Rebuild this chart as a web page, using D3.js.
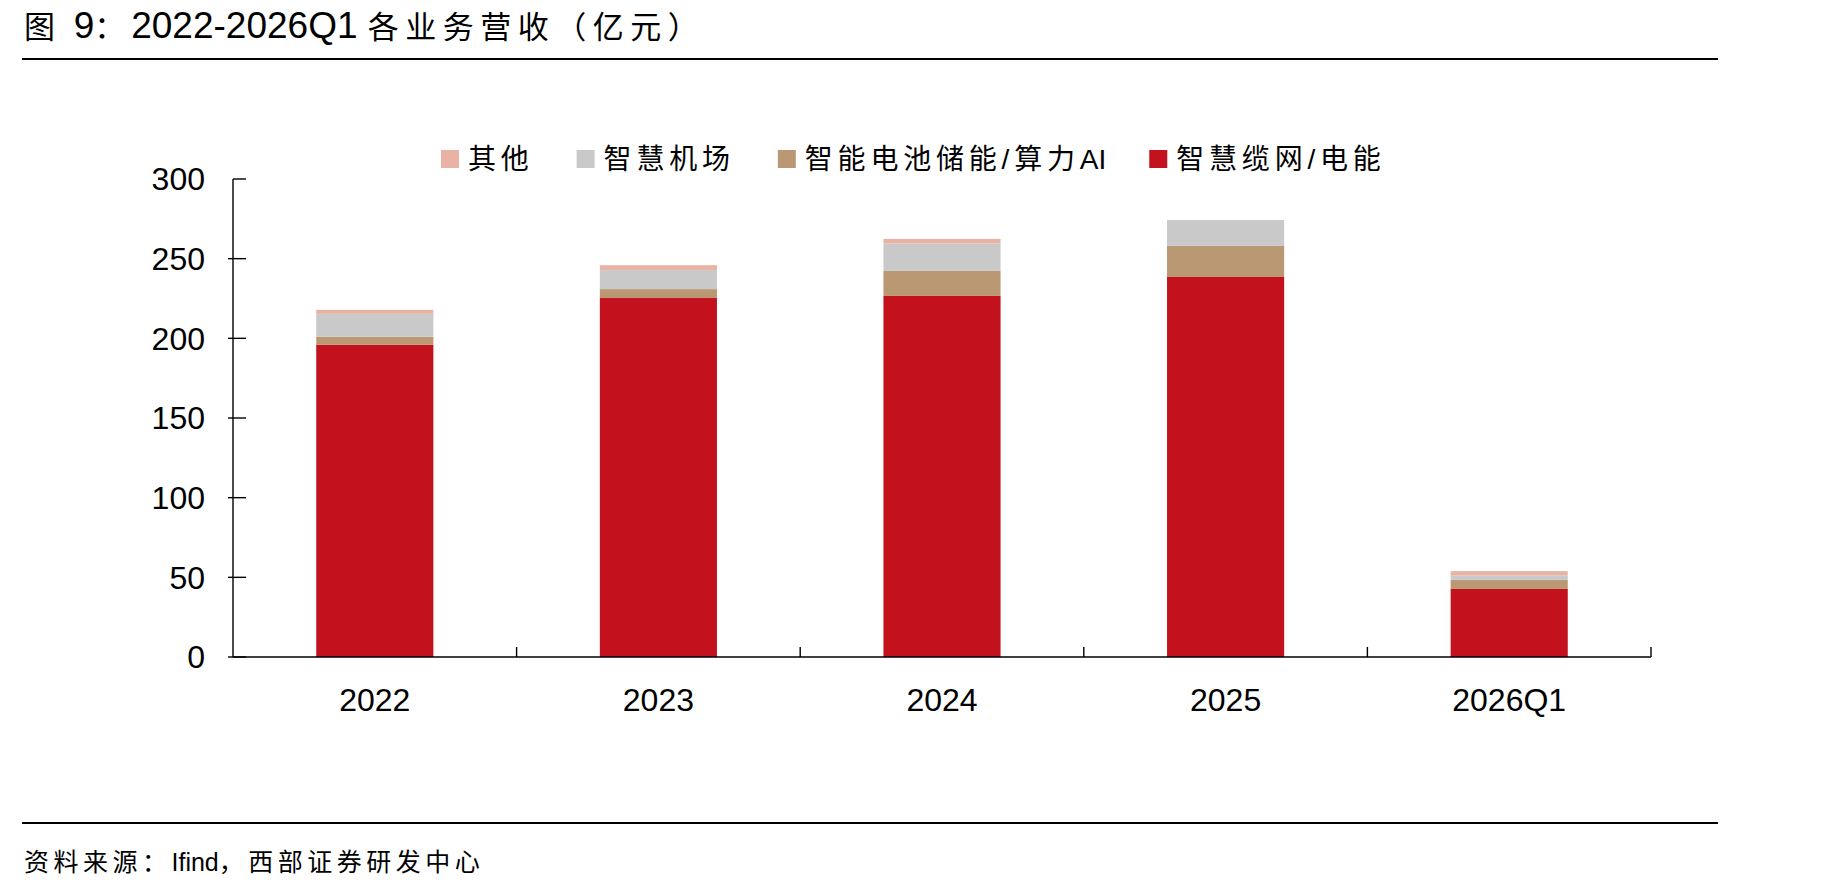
<!DOCTYPE html>
<html>
<head>
<meta charset="utf-8">
<title>2022-2026Q1 各业务营收</title>
<style>
  body { margin: 0; background: #fff; }
  text { font-family: "Liberation Sans", "Noto Sans CJK SC", sans-serif; fill: #000; }
</style>
</head>
<body>
<div id="chart"></div>
<script src="https://cdn.jsdelivr.net/npm/d3@7/dist/d3.min.js"></script>
<script>
// data (亿元)
var categories = ["2022", "2023", "2024", "2025", "2026Q1"];
var cable   = [196.0, 225.3, 226.6, 238.5, 42.7];   // 智慧缆网/电能
var battery = [5.0, 5.6, 15.7, 19.5, 5.6];          // 智能电池储能/算力AI
var airport = [14.4, 11.9, 17.2, 16.3, 2.9];        // 智慧机场
var other   = [2.5, 3.1, 2.9, 0, 2.7];              // 其他
var yTicks  = [0, 50, 100, 150, 200, 250, 300];

var seriesNames  = ["智慧缆网/电能", "智能电池储能/算力AI", "智慧机场", "其他"];
var seriesColors = ["#c3111d", "#b99873", "#c9c9c9", "#e8b3a5"];

var W = 1836, H = 890;
var svg = d3.select('#chart').append('svg').attr('width', W).attr('height', H);

var rows = categories.map(function (c, i) {
  return { cat: c, s0: cable[i], s1: battery[i], s2: airport[i], s3: other[i] };
});
var stacked = d3.stack().keys(["s0", "s1", "s2", "s3"])(rows);

var x = d3.scaleBand().domain(categories).range([233, 1651])
  .paddingInner(0.587).paddingOuter(0.2935);
var y = d3.scaleLinear().domain([0, 300]).range([657, 179]);

// bars
svg.append('g').selectAll('g').data(stacked).join('g')
  .attr('fill', function (d, i) { return seriesColors[i]; })
  .selectAll('rect').data(function (d) { return d; }).join('rect')
  .attr('x', function (d) { return x(d.data.cat); })
  .attr('width', x.bandwidth())
  .attr('y', function (d) { return y(d[1]); })
  .attr('height', function (d) { return y(d[0]) - y(d[1]); });

// y axis
var yAxis = svg.append('g').attr('stroke', '#000').attr('stroke-width', 1.4);
yAxis.append('line').attr('x1', 233).attr('x2', 233).attr('y1', y(300)).attr('y2', y(0));
yAxis.selectAll('line.tick').data(yTicks).join('line').attr('class', 'tick')
  .attr('x1', function (d) { return d === 300 ? 233 : 228; }).attr('x2', 246)
  .attr('y1', function (d) { return y(d); }).attr('y2', function (d) { return y(d); });
svg.append('g').selectAll('text').data(yTicks).join('text')
  .attr('x', 205).attr('y', function (d) { return y(d); })
  .attr('dy', '0.35em').attr('text-anchor', 'end')
  .style('font-size', '32px')
  .text(function (d) { return d; });

// x axis with ticks at category boundaries
var xAxis = svg.append('g').attr('stroke', '#000').attr('stroke-width', 1.4);
xAxis.append('line').attr('x1', 233).attr('x2', 1651).attr('y1', y(0)).attr('y2', y(0));
var bounds = categories.map(function (c) { return x(c) + x.bandwidth() / 2 + x.step() / 2; });
xAxis.selectAll('line.tick').data(bounds).join('line').attr('class', 'tick')
  .attr('x1', function (d) { return d; }).attr('x2', function (d) { return d; })
  .attr('y1', y(0)).attr('y2', y(0) - 10);
svg.append('g').selectAll('text').data(categories).join('text')
  .attr('x', function (d) { return x(d) + x.bandwidth() / 2; })
  .attr('y', 711).attr('text-anchor', 'middle')
  .style('font-size', '32px')
  .text(function (d) { return d; });

// legend (reverse order of stack); latin parts without extra spacing
var legend = svg.append('g');
var lx = 441;
[3, 2, 1, 0].forEach(function (i) {
  legend.append('rect').attr('x', lx).attr('y', 150).attr('width', 18).attr('height', 18)
    .attr('fill', seriesColors[i]);
  var t = legend.append('text').attr('x', lx + 27).attr('y', 169).style('font-size', '28px');
  seriesNames[i].split(/([A-Za-z]+)/).forEach(function (part) {
    if (!part) return;
    t.append('tspan').style('letter-spacing', /[A-Za-z]/.test(part) ? '0px' : '4.8px').text(part);
  });
  lx = lx + 27 + t.node().getComputedTextLength() + 43;
});

// title
var title = svg.append('text').attr('x', 24).attr('y', 38);
[["图 ", 31, "5px"], ["9", 37, "0px"], ["：", 31, "6px"], ["2022-2026Q1 ", 37, "0px"], ["各业务营收（亿元）", 31, "6.5px"]]
  .forEach(function (p) {
    title.append('tspan').style('font-size', p[1] + 'px').style('letter-spacing', p[2]).text(p[0]);
  });
svg.append('line').attr('x1', 22).attr('x2', 1718).attr('y1', 59).attr('y2', 59)
  .attr('stroke', '#000').attr('stroke-width', 2);

// footer
svg.append('line').attr('x1', 22).attr('x2', 1718).attr('y1', 823).attr('y2', 823)
  .attr('stroke', '#000').attr('stroke-width', 2);
var foot = svg.append('text').attr('x', 24).attr('y', 871).style('font-size', '25px');
[["资料来源：", "4.5px"], ["Ifind", "0px"], ["，西部证券研发中心", "4.5px"]].forEach(function (p) {
  foot.append('tspan').style('letter-spacing', p[1]).text(p[0]);
});
</script>
</body>
</html>
